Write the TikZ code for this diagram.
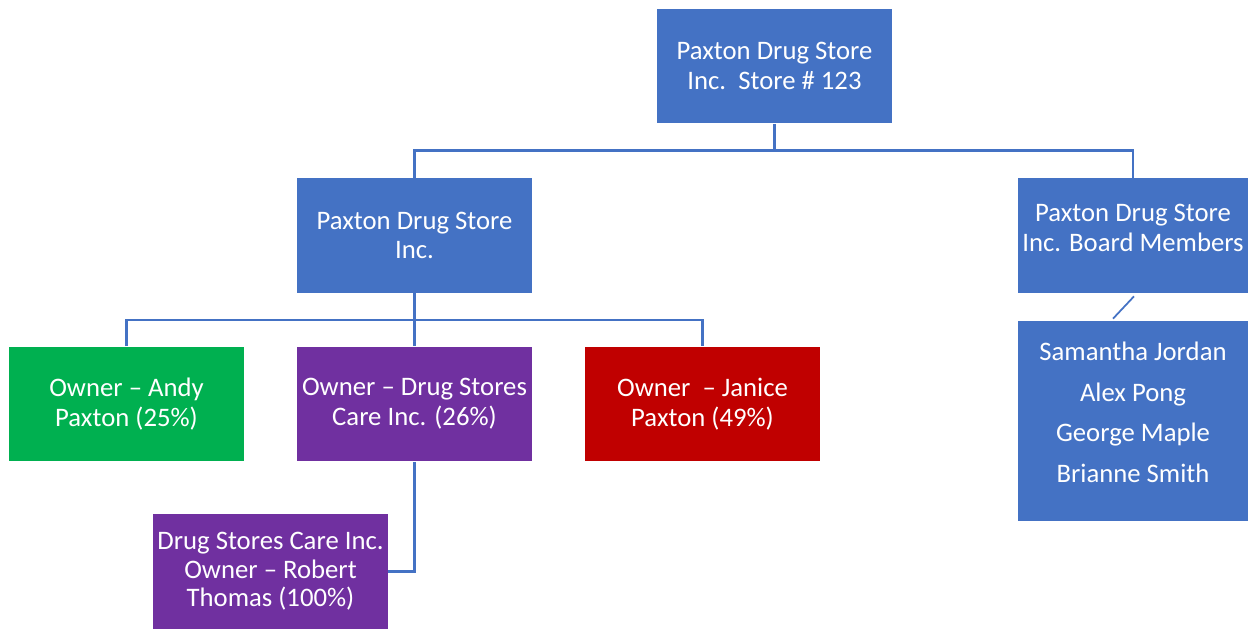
\documentclass[tikz,border=0pt]{standalone}
\usepackage{fontspec}
\setmainfont{Carlito}
\usetikzlibrary{positioning}
\definecolor{orgblue}{HTML}{4472C4}
\definecolor{orggreen}{HTML}{00B050}
\definecolor{orgpurple}{HTML}{7030A0}
\definecolor{orgred}{HTML}{C00000}

\begin{document}
\begin{tikzpicture}[x=0.02cm, y=-0.02cm,
    box/.style={fill=#1, text=white, minimum width=4.7cm, minimum height=2.3cm,
                align=center, inner sep=0pt, font=\fontsize{15.2}{17}\selectfont},
    link/.style={draw=orgblue, line width=1.4pt}]
      \useasboundingbox (0,0) rectangle (1248,629);
      % top level
      \node[box=orgblue] (store) at (774.5,66) {Paxton Drug Store\\Inc.\ \ Store \# 123};
      \node[box=orgblue] (inc) at (414.5,235.5) {Paxton Drug Store\\Inc.};
      \node[box=orgblue, minimum width=4.6cm, text depth=0.3cm] (board) at (1133,235.5) {Paxton Drug Store\\Inc. Board Members};
      \node[box=orgblue, minimum width=4.6cm, minimum height=4cm, text depth=0.35cm] (members) at (1133,421)
           {Samantha Jordan\\[6pt]Alex Pong\\[6pt]George Maple\\[6pt]Brianne Smith};
      % owners
      \node[box=orggreen] (andy) at (126.5,404) {Owner -- Andy\\Paxton (25\%)};
      \node[box=orgpurple] (care) at (414.5,404) {Owner -- Drug Stores\\Care Inc. (26\%)};
      \node[box=orgred] (janice) at (702.5,404) {Owner\ \ -- Janice\\Paxton (49\%)};
      \node[box=orgpurple, font=\fontsize{15.2}{16.3}\selectfont] (robert) at (270.5,571.5) {Drug Stores Care Inc.\\Owner -- Robert\\Thomas (100\%)};
      % connectors
      \draw[link] (store.south) -- ++(0,27);
      \draw[link] (inc.north) -- ++(0,-27) -| (board.north);
      \draw[link] (inc.south) -- ++(0,27);
      \draw[link] (andy.north) -- ++(0,-26) -| (janice.north);
      \draw[link] (care.north) -- ++(0,-26);
      \draw[link] (care.south) |- (robert.east);
      \draw[link, line width=1pt] ([xshift=0.02cm, yshift=-0.06cm]board.south) -- ([xshift=-0.4cm, yshift=0.04cm]members.north);
\end{tikzpicture}
\end{document}
